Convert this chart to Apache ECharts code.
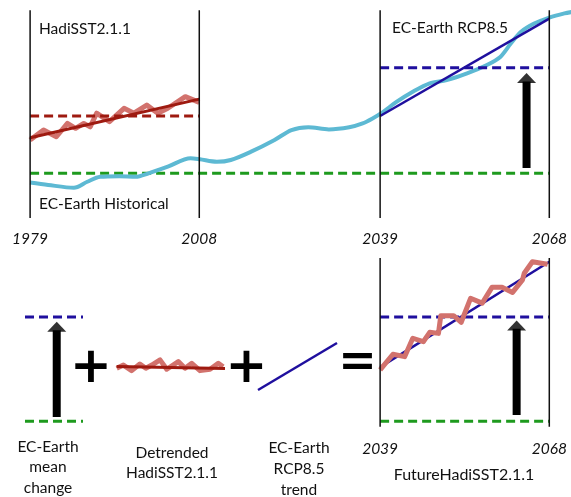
<!DOCTYPE html>
<html>
<head>
<meta charset="utf-8">
<script src="https://cdn.jsdelivr.net/npm/echarts@6/dist/echarts.min.js"></script>
<style>
html,body{margin:0;padding:0;background:#fff;}
#main{width:571px;height:497px;}
</style>
</head>
<body>
<div id="main"></div>
<script>
// ---------------- data (schematic temperature anomaly units) ----------------
const TOP_YEAR_LABELS = [1979, 2008, 2039, 2068];
const BOTTOM_YEAR_LABELS = [2039, 2068];
const PERIOD_BOUNDS = [1979, 2008, 2039, 2068];
const FUTURE_BOUNDS = [2039, 2068];

const HIST_MEAN = 0.0;     // EC-Earth historical mean (green dashed)
const FUT_MEAN = 3.0;      // EC-Earth RCP8.5 mean (blue dashed)
const HADI_MEAN = 1.63;    // HadiSST2.1.1 mean (dark red dashed)

const ecYears = [1979,1982.1,1986.5,1988.8,1991.0,1994.3,1997.1,1999.3,2002.6,2006.5,
                 2008.1,2011.0,2013.4,2016.8,2020.9,2023.8,2026.7,2030.2,2033.7,2036.0,
                 2037.7,2039.2,2041.8,2044.6,2047.5,2050.4,2053.9,2057.3,2059.6,2061.4,
                 2063.1,2065.4,2068.0,2070.6,2071.9];
const ecTemp  = [-0.26,-0.33,-0.41,-0.24,-0.10,-0.08,-0.10,0.00,0.19,0.43,
                 0.40,0.33,0.38,0.61,0.95,1.23,1.31,1.25,1.31,1.42,
                 1.56,1.71,2.03,2.32,2.56,2.65,2.84,3.08,3.31,3.69,
                 4.02,4.26,4.43,4.55,4.59];

const hadiYears = [1979,1981.3,1983.5,1985.4,1986.8,1988.2,1989.3,1990.4,1992.6,1995.1,1996.8,1999.0,2000.9,2002.6,2005.6,2008];
const hadiTemp  = [0.95,1.23,1.04,1.42,1.28,1.42,1.32,1.71,1.47,1.85,1.71,1.94,1.71,1.85,2.18,2.02];
const hadiTrend = [1.01, 2.11];        // at 1979, 2008

const rcpTrend = [1.63, 4.40];         // at 2039, 2068 (top panel)

const detYears = [1979,1980.8,1983.0,1985.2,1986.8,1988.4,1990.6,1992.4,1995.5,1997.3,1999.1,2001.3,2004.0,2006.2,2007.5];
const detTemp  = [-0.02,0.07,-0.09,0.10,-0.02,0.07,0.22,-0.05,0.17,-0.02,0.12,-0.09,-0.05,0.12,0.02];
const detTrend = [0.03, -0.03];        // at 1979, 2008

const futYears = [2039,2041.2,2043.2,2044.6,2046.4,2047.5,2049.0,2049.4,2051.6,2052.9,2054.5,2056.5,2058.2,2059.9,2061.7,2063.4,2063.7,2065.1,2067.7];
const futTemp  = [1.48,1.93,1.86,2.39,2.29,2.56,2.53,3.04,3.04,2.85,3.54,3.40,3.86,3.86,3.71,4.07,4.26,4.59,4.52];
const futTrend = [1.56, 4.59];         // at 2039, 2068 (bottom panel)

// arrows: [position, base value, head value]
const arrowTop = [2064.1, 0.15, 2.71];
const arrowFut = [2062.4, 0.18, 2.76];
const arrowComp = [0.547, 0.12, 2.72];

// vertical extent of period-bound lines
const topBoundRange = [-1.27, 4.64];
const botBoundRange = [-0.16, 4.70];

// ---------------- styles ----------------
const C_CYAN = '#5db9d3', C_LRED = '#d2726d', C_DRED = '#9e1a10',
      C_BLUE = '#1f0f9e', C_GREEN = '#1e9a1e', C_BLACK = '#111';
const FONT = 'Lato';

const zip = (xs, ys) => xs.map((x, i) => [x, ys[i]]);
function line(name, data, color, width, opts) {
  return Object.assign({
    type: 'line', name, data, symbol: 'none', silent: true,
    lineStyle: { color, width, cap: 'butt', join: 'round' },
    xAxisIndex: 0, yAxisIndex: 0, animation: false
  }, opts || {});
}
function dashed(name, data, color, axes) {
  const s = line(name, data, color, 3, axes);
  s.lineStyle.type = [9, 5];
  return s;
}
function arrow(name, a, ax) {
  return [
    line(name + ' shaft', [[a[0], a[1]], [a[0], a[2] - 0.1]], '#000', 8, ax),
    Object.assign({ type: 'scatter', name: name + ' head', data: [[a[0], a[2]]], symbol: 'triangle',
      symbolSize: [19, 10], itemStyle: { color: '#000' }, silent: true, animation: false,
      xAxisIndex: 0, yAxisIndex: 0 }, ax || {})
  ];
}
const g0 = { xAxisIndex: 0, yAxisIndex: 0 }, g1 = { xAxisIndex: 1, yAxisIndex: 1 },
      g2 = { xAxisIndex: 2, yAxisIndex: 2 }, g3 = { xAxisIndex: 3, yAxisIndex: 3 },
      g4 = { xAxisIndex: 4, yAxisIndex: 4 };

const hidden = { axisLine: { show: false }, axisTick: { show: false }, splitLine: { show: false }, axisLabel: { show: false } };
const X_MIN = 1973.84, X_MAX = 2071.72;

function yearAxis(gridIndex, labels) {
  return {
    type: 'value', gridIndex, min: X_MIN, max: X_MAX,
    axisLine: { show: false }, axisTick: { show: false }, splitLine: { show: false },
    axisLabel: { show: true, customValues: labels, formatter: v => String(v), margin: 3,
      fontFamily: FONT, fontStyle: 'italic', fontSize: 15.5, color: '#111' }
  };
}

const series = [];
// top panel
series.push(dashed('EC-Earth historical mean', [[PERIOD_BOUNDS[0], HIST_MEAN], [PERIOD_BOUNDS[3], HIST_MEAN]], C_GREEN, g0));
series.push(line('EC-Earth', zip(ecYears, ecTemp), C_CYAN, 4, Object.assign({ smooth: 0.3 }, g0)));
series.push(dashed('EC-Earth RCP8.5 mean', [[PERIOD_BOUNDS[2], FUT_MEAN], [PERIOD_BOUNDS[3], FUT_MEAN]], C_BLUE, g0));
series.push(line('EC-Earth RCP8.5 trend', [[PERIOD_BOUNDS[2], rcpTrend[0]], [PERIOD_BOUNDS[3], rcpTrend[1]]], C_BLUE, 2.5, g0));
series.push(line('HadiSST2.1.1', zip(hadiYears, hadiTemp), C_LRED, 5, g0));
series.push(dashed('HadiSST2.1.1 mean', [[PERIOD_BOUNDS[0], HADI_MEAN], [PERIOD_BOUNDS[1], HADI_MEAN]], C_DRED, g0));
series.push(line('HadiSST2.1.1 trend', [[PERIOD_BOUNDS[0], hadiTrend[0]], [PERIOD_BOUNDS[1], hadiTrend[1]]], C_DRED, 3, g0));
PERIOD_BOUNDS.forEach(y => series.push(line('bound ' + y, [[y, topBoundRange[0]], [y, topBoundRange[1]]], C_BLACK, 1.5, g0)));
series.push(...arrow('mean change top', arrowTop, g0));

// bottom right panel
series.push(dashed('future green', [[FUTURE_BOUNDS[0], HIST_MEAN], [FUTURE_BOUNDS[1], HIST_MEAN]], C_GREEN, g1));
series.push(dashed('future blue', [[FUTURE_BOUNDS[0], FUT_MEAN], [FUTURE_BOUNDS[1], FUT_MEAN]], C_BLUE, g1));
series.push(line('future trend', [[FUTURE_BOUNDS[0], futTrend[0]], [FUTURE_BOUNDS[1], futTrend[1]]], C_BLUE, 2.5, g1));
series.push(line('FutureHadiSST2.1.1', zip(futYears, futTemp), C_LRED, 5, g1));
FUTURE_BOUNDS.forEach(y => series.push(line('fbound ' + y, [[y, botBoundRange[0]], [y, botBoundRange[1]]], C_BLACK, 1.5, g1)));
series.push(...arrow('mean change future', arrowFut, g1));

// component: mean change
series.push(dashed('comp green', [[0, HIST_MEAN], [1, HIST_MEAN]], C_GREEN, g2));
series.push(dashed('comp blue', [[0, FUT_MEAN], [1, FUT_MEAN]], C_BLUE, g2));
series.push(...arrow('mean change comp', arrowComp, g2));

// component: detrended
series.push(line('Detrended', zip(detYears, detTemp), C_LRED, 5, g3));
series.push(line('Detrended trend', [[PERIOD_BOUNDS[0], detTrend[0]], [PERIOD_BOUNDS[1], detTrend[1]]], C_DRED, 3, g3));

// component: trend
series.push(line('trend comp', [[FUTURE_BOUNDS[0], futTrend[0]], [FUTURE_BOUNDS[1], futTrend[1]]], C_BLUE, 2.5, g4));

const txt = (text, x, y, extra) => ({
  type: 'text', x, y, silent: true,
  style: Object.assign({ text, fontFamily: FONT, fontSize: 15.5, fill: '#111', align: 'left', verticalAlign: 'middle' }, extra || {})
});
const op = (text, x, y, size) => txt(text, x, y, { fontFamily: 'DejaVu Sans', fontWeight: 'bold', fontSize: size, fill: '#000', align: 'center' });

const option = {
  animation: false,
  backgroundColor: '#fff',
  grid: [
    { left: 0, top: 0, width: 571, height: 228 },
    { left: 0, top: 250, width: 571, height: 188 },
    { left: 25, top: 250, width: 58, height: 188 },
    { left: 116.7, top: 250, width: 108.3, height: 188 },
    { left: 258, top: 343, width: 79, height: 47 }
  ],
  xAxis: [
    yearAxis(0, TOP_YEAR_LABELS),
    yearAxis(1, BOTTOM_YEAR_LABELS),
    Object.assign({ type: 'value', gridIndex: 2, min: 0, max: 1 }, hidden),
    Object.assign({ type: 'value', gridIndex: 3, min: 1979, max: 2008 }, hidden),
    Object.assign({ type: 'value', gridIndex: 4, min: 'dataMin', max: 'dataMax' }, hidden)
  ],
  yAxis: [
    Object.assign({ type: 'value', gridIndex: 0, min: -1.555, max: 4.93 }, hidden),
    Object.assign({ type: 'value', gridIndex: 1, min: -0.481, max: 4.93 }, hidden),
    Object.assign({ type: 'value', gridIndex: 2, min: -0.481, max: 4.93 }, hidden),
    Object.assign({ type: 'value', gridIndex: 3, min: -2.029, max: 3.382 }, hidden),
    Object.assign({ type: 'value', gridIndex: 4, min: 'dataMin', max: 'dataMax' }, hidden)
  ],
  series,
  graphic: [
    txt('HadiSST2.1.1', 39, 29),
    txt('EC-Earth Historical', 39, 204),
    txt('EC-Earth RCP8.5', 392, 28),
    txt('EC-Earth\nmean\nchange', 48, 467, { align: 'center', lineHeight: 20.5 }),
    txt('Detrended\nHadiSST2.1.1', 172, 463, { align: 'center', lineHeight: 20 }),
    txt('EC-Earth\nRCP8.5\ntrend', 299, 469, { align: 'center', lineHeight: 21 }),
    txt('FutureHadiSST2.1.1', 464, 475, { align: 'center', fontSize: 16 }),
    op('+', 91, 369, 50),
    op('+', 246.5, 369, 50),
    op('=', 357.5, 364, 46)
  ]
};
echarts.init(document.getElementById('main'), null, { renderer: 'canvas' }).setOption(option);
</script>
</body>
</html>
